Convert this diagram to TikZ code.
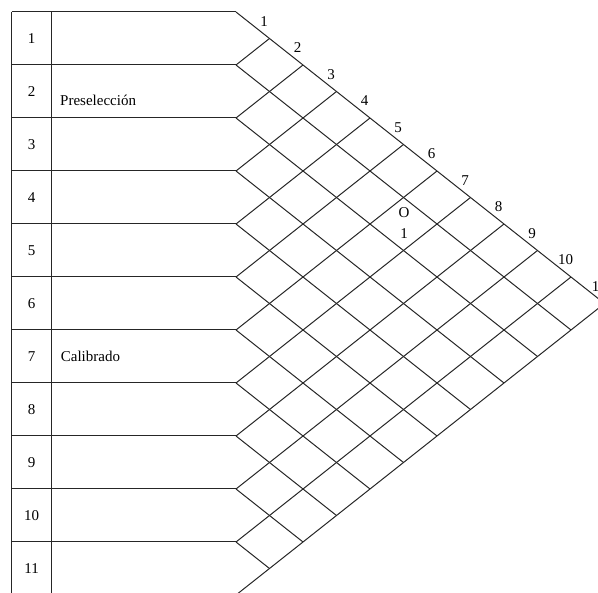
\documentclass[tikz,border=0pt]{standalone}
\usepackage{fontspec}
\setmainfont{Liberation Serif}
\begin{document}
\begin{tikzpicture}[x=1pt,y=-1pt,
  grid/.style={draw=black!85, line width=1pt},
  lbl/.style={font=\fontsize{15}{18}\selectfont, inner sep=0pt}]
\useasboundingbox (0,0) rectangle (598,593);
\clip (0,0) rectangle (598,593);
\def\xl{11.7}\def\xm{51.7}\def\xr{236}\def\yo{12}\def\h{53}\def\w{33.5}
% boundary points
\foreach \i in {0,...,11}{
  \coordinate (l\i) at (\xl,{\yo+\i*\h});
  \coordinate (m\i) at (\xm,{\yo+\i*\h});
  \coordinate (b\i) at (\xr,{\yo+\i*\h});
  \coordinate (f\i) at ({\xr+\i*\w},{\yo+\i*\h/2});
  \coordinate (e\i) at ({\xr+(11-\i)*\w},{\yo+\i*\h+(11-\i)*\h/2});
}
% table
\foreach \i in {0,...,11} \draw[grid] (l\i) -- (b\i);
\draw[grid] (l0) -- (l11);
\draw[grid] (m0) -- (m11);
% diagonal grid
\foreach \i in {0,...,10} \draw[grid] (b\i) -- (e\i);
\foreach \j in {1,...,11} \draw[grid] (b\j) -- (f\j);
% labels along top edge
\foreach \k in {1,...,11}
  \node[lbl] (t\k) at ({\xr+\k*\w-5.5},{\yo+\k*\h/2-17}) {\k};
% row numbers
\foreach \k in {1,...,11}
  \node[lbl] (r\k) at ({(\xl+\xm)/2},{\yo+(\k-0.5)*\h}) {\k};
\node[lbl, anchor=base west] (pre) at (60,105.7) {Preselección};
\node[lbl, anchor=base west] (cal) at (60.7,361.7) {Calibrado};
\node[lbl] (rate) at (404,212.7) {O};
\node[lbl] (reason) at (404,233.3) {1};
\end{tikzpicture}
\end{document}
